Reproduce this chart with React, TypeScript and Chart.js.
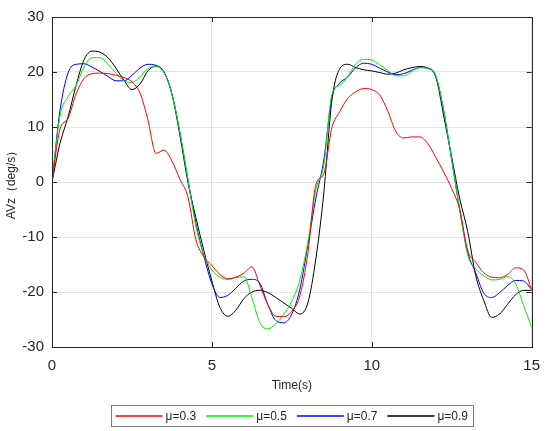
import { Chart, registerables } from 'chart.js';
import { useEffect, useRef } from 'react';

Chart.register(...registerables);

// time axis samples (s), 0.25 s step
const times = Array.from({ length: 61 }, (_, i) => i * 0.25);

const seriesLabels = ['μ=0.3', 'μ=0.5', 'μ=0.7', 'μ=0.9'];
const seriesColors = ['#ff0000', '#00ee00', '#0000ff', '#000000'];

const mu03 = [
  0, 9.6, 11.5, 16, 18.8, 19.7, 19.8, 19.7, 19.4, 19, 18.2, 16.2, 11.3, 5.2, 5.8, 3.8,
  0.5, -2.7, -10.5, -13.6, -15.2, -16.8, -17.6, -17.3, -16.6, -15.4, -18.8, -22.3, -24.4, -24.5, -23.5, -20.7,
  -13, -0.5, 1.5, 9.8, 12.8, 15.2, 16.4, 17.0, 16.8, 15.8, 12.9, 9.2, 8.0, 8.2, 8.2, 7,
  4.5, 1.8, -1.2, -5, -12.5, -14.6, -16.5, -17.3, -17.4, -16.8, -15.6, -16, -19.6,
];
const mu05 = [
  0, 12, 15.5, 17.5, 20.9, 22.6, 22.6, 21.4, 19.8, 18.4, 18.1, 19.1, 20.6, 21, 19.9, 16,
  9, 0.5, -8, -13.3, -16, -17.3, -17.7, -17.4, -17.2, -21, -25.6, -26.7, -25.8, -24, -21.7, -17.8,
  -11, -1.4, 3, 15.9, 17.6, 19.2, 21.5, 22.3, 22.2, 21.3, 20.3, 19.3, 19.3, 20.1, 20.8, 20.7,
  19.4, 13, 4, -5, -13.3, -15.8, -17, -17.8, -17.7, -17.2, -18.5, -22.5, -26.4,
];
const mu07 = [
  0, 13, 19.8, 21.4, 21.5, 20.9, 20.1, 19.2, 18.4, 18.4, 19.4, 20.7, 21.4, 21.2, 20, 16,
  9, 0.5, -7.5, -13.5, -18.5, -21, -20.6, -19.3, -18, -17.7, -18.4, -22.3, -25.2, -25.6, -24, -19.5,
  -11.5, -3, 4, 15.3, 18, 19.1, 20.8, 21.6, 21.4, 20.7, 20, 19.5, 19.7, 20.3, 20.8, 20.7,
  19.2, 13, 4, -5, -12.8, -16.5, -20.2, -21, -20.1, -18.8, -17.9, -18, -19.6,
];
const mu09 = [
  0, 7, 11.8, 17.5, 22.2, 23.8, 23.6, 22.6, 20.7, 18.5, 16.8, 17.8, 20.2, 21.1, 20, 16,
  8.5, 0, -6.5, -12.5, -18, -22.8, -24.4, -23.3, -21.2, -20, -19.7, -20.1, -21, -22, -23, -24,
  -22, -14, -2, 14.7, 20.6, 21.4, 20.8, 20.4, 20.2, 19.9, 19.6, 19.8, 20.4, 20.8, 21, 20.7,
  19.2, 12, 4.5, -3, -9, -17, -21.5, -24.6, -24, -22.2, -20.5, -19.7, -19.7,
];
const seriesValues = [mu03, mu05, mu07, mu09];

const xTicks = [0, 5, 10, 15];
const yTicks = [-30, -20, -10, 0, 10, 20, 30];

const FONT = '"Liberation Sans", Arial, Helvetica, sans-serif';
const AXIS = '#262626';

// box round the plot with MATLAB-like inward ticks
const frame = {
  id: 'frame',
  afterDatasetsDraw(chart: Chart) {
    const { ctx, chartArea: a } = chart;
    const xs = chart.scales.x;
    const ys = chart.scales.y;
    ctx.save();
    ctx.strokeStyle = AXIS;
    ctx.lineWidth = 1;
    ctx.beginPath();
    xTicks.forEach((t) => {
      const px = Math.round(xs.getPixelForValue(t)) + 0.5;
      ctx.moveTo(px, a.bottom);
      ctx.lineTo(px, a.bottom - 5);
      ctx.moveTo(px, a.top);
      ctx.lineTo(px, a.top + 5);
    });
    yTicks.forEach((t) => {
      const py = Math.round(ys.getPixelForValue(t)) + 0.5;
      ctx.moveTo(a.left, py);
      ctx.lineTo(a.left + 5, py);
      ctx.moveTo(a.right, py);
      ctx.lineTo(a.right - 5, py);
    });
    ctx.stroke();
    ctx.strokeRect(Math.round(a.left) + 0.5, Math.round(a.top) + 0.5, Math.round(a.right - a.left), Math.round(a.bottom - a.top));
    ctx.restore();
  },
};

// boxed legend below the axis title
const legendBox = {
  id: 'legendBox',
  afterDraw(chart: Chart) {
    const { ctx, chartArea: a } = chart;
    const lineLen = 47;
    const gap = 3;
    const spacing = 10;
    const pad = 5;
    ctx.save();
    ctx.font = `12px ${FONT}`;
    const items = seriesLabels.map((label, i) => ({
      label,
      color: seriesColors[i],
      w: lineLen + gap + ctx.measureText(label).width,
    }));
    const total = items.reduce((s, it) => s + it.w, 0) + spacing * (items.length - 1) + pad * 2;
    const left = (a.left + a.right) / 2 - total / 2;
    const top = 405;
    const h = 21;
    ctx.fillStyle = '#ffffff';
    ctx.fillRect(left, top, total, h);
    ctx.strokeStyle = '#7a7a7a';
    ctx.lineWidth = 1;
    ctx.strokeRect(Math.round(left) + 0.5, top + 0.5, Math.round(total), h);
    let x = left + pad;
    const cy = top + h / 2;
    items.forEach((it) => {
      ctx.beginPath();
      ctx.strokeStyle = it.color;
      ctx.lineWidth = 1.4;
      ctx.moveTo(x, Math.round(cy));
      ctx.lineTo(x + lineLen, Math.round(cy));
      ctx.stroke();
      ctx.fillStyle = AXIS;
      ctx.textBaseline = 'middle';
      ctx.textAlign = 'left';
      ctx.fillText(it.label, x + lineLen + gap, cy + 1);
      x += it.w + spacing;
    });
    ctx.restore();
  },
};

export default function App() {
  const canvasRef = useRef<HTMLCanvasElement>(null);
  const chartRef = useRef<Chart | null>(null);

  useEffect(() => {
    const ctx = canvasRef.current!.getContext('2d');
    if (chartRef.current) {
      chartRef.current.destroy();
    }
    chartRef.current = new Chart(ctx!, {
      type: 'line',
      data: {
        datasets: seriesValues.map((vals, i) => ({
          label: seriesLabels[i],
          data: vals.map((v, k) => ({ x: times[k], y: v })),
          borderColor: seriesColors[i],
          backgroundColor: seriesColors[i],
          borderWidth: 1,
          pointRadius: 0,
          cubicInterpolationMode: 'monotone' as const,
          fill: false,
        })),
      },
      options: {
        responsive: false,
        animation: false,
        layout: { padding: { left: 0, right: 13, top: 11, bottom: 34 } },
        plugins: {
          legend: { display: false },
          tooltip: { enabled: false },
        },
        scales: {
          x: {
            type: 'linear',
            min: 0,
            max: 15,
            afterBuildTicks: (scale) => {
              scale.ticks = xTicks.map((v) => ({ value: v }));
            },
            afterFit: (scale) => {
              scale.height = 50;
            },
            grid: { color: '#e3e3e3', drawTicks: false },
            border: { display: false },
            ticks: { padding: 10, color: AXIS, font: { family: FONT, size: 15 } },
            title: { display: true, text: 'Time(s)', color: AXIS, font: { family: FONT, size: 12 } },
          },
          y: {
            min: -30,
            max: 30,
            afterBuildTicks: (scale) => {
              scale.ticks = yTicks.map((v) => ({ value: v }));
            },
            afterFit: (scale) => {
              scale.width = 52;
            },
            grid: { color: '#e3e3e3', drawTicks: false },
            border: { display: false },
            ticks: { padding: 8, color: AXIS, font: { family: FONT, size: 15 } },
            title: { display: true, text: 'AVz（deg/s）', color: AXIS, font: { family: FONT, size: 12 } },
          },
        },
      },
      plugins: [frame, legendBox],
    });
    return () => {
      if (chartRef.current) {
        chartRef.current.destroy();
        chartRef.current = null;
      }
    };
  }, []);

  return (
    <div style={{ position: 'absolute', left: 0, top: 0, width: 550, height: 431, background: '#fff' }}>
      <canvas ref={canvasRef} width="550" height="431" style={{ display: 'block' }}></canvas>
    </div>
  );
}
